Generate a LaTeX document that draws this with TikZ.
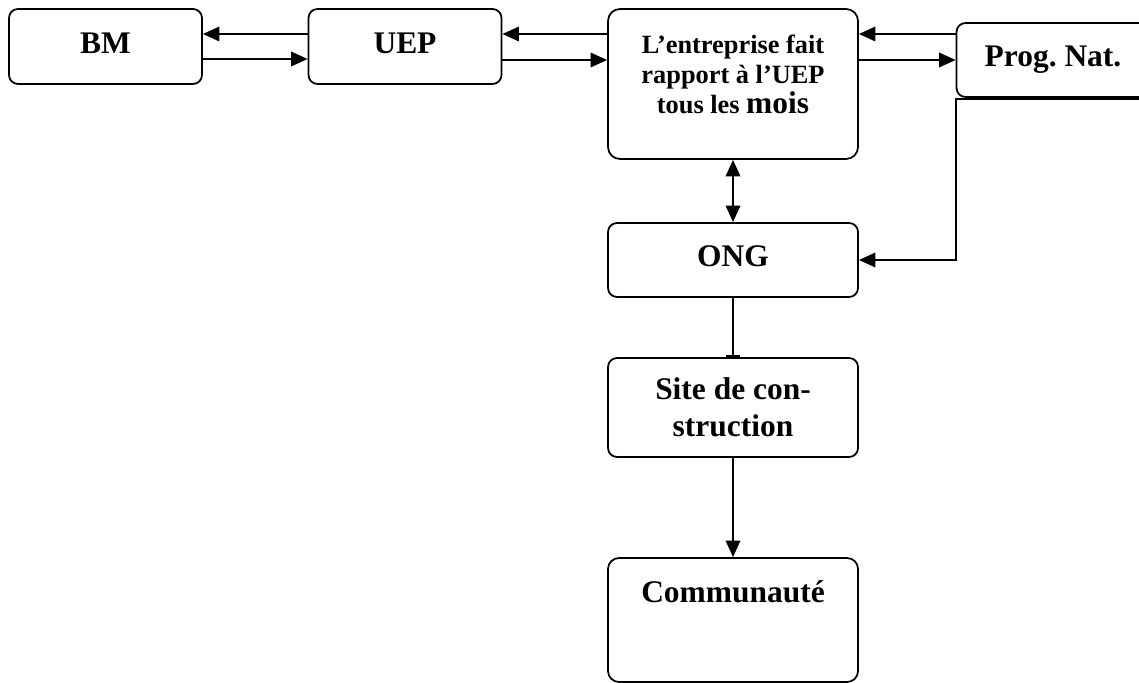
\documentclass[tikz,border=0pt]{standalone}
\usepackage{fontspec}
\setmainfont{Liberation Serif}
\usetikzlibrary{arrows.meta,positioning}
\frenchspacing

\tikzset{
  box/.style={draw, rounded corners=.18cm, line width=1pt, minimum width=3.86cm,
    minimum height=1.5cm, align=center, inner sep=2pt,
    font=\fontsize{17.9}{21}\selectfont\bfseries},
  wbox/.style={box, minimum width=5cm},
}

\begin{document}
\begin{tikzpicture}[->,>={Triangle[length=.33cm,width=.29cm]},line width=1pt,
                    node distance=6cm]
  \useasboundingbox (0,0) rectangle (22.78,-13.66);
  \clip (0,0) rectangle (22.78,-13.66);

  \node[box,text depth=.15cm] (bm) at (2.11,-.93) {BM};
  \node[box,text depth=.15cm] (uep) [node distance=5.99cm, right of=bm] {UEP};
  \node[wbox,minimum height=3cm,rounded corners=.24cm,
        font=\fontsize{15}{17}\selectfont\bfseries] (ent)
        [node distance=6.56cm, right of=uep, yshift=-.75cm]
        {L'entreprise fait\\rapport à l'UEP\\tous les {\fontsize{17.9}{17}\selectfont mois}\\[-5.6pt]\mbox{}};
  \node[box,text depth=.15cm,minimum height=1.48cm] (prog)
        [node distance=6.4cm, right of=ent, yshift=.48cm] {Prog. Nat.};
  \node[wbox,text depth=.15cm,minimum height=1.48cm] (ong)
        [node distance=3.52cm, below of=ent] {ONG};
  \node[wbox,minimum height=1.98cm] (site) [node distance=2.95cm, below of=ong]
        {Site de con-\\struction};
  \node[wbox,minimum height=2.48cm,rounded corners=.22cm] (comm)
        [node distance=4.25cm, below of=site] {Communauté\\[11pt]\mbox{}};

  \coordinate (pend) at ([yshift=-.02cm]prog.south east);

  \draw ([yshift=.25cm]uep.west) -- ([yshift=.25cm]bm.east);
  \draw ([yshift=-.25cm]bm.east) -- ([yshift=-.25cm]uep.west);
  \draw ([yshift=.52cm]prog.west -| ent.west) -- ([yshift=.52cm]prog.west -| uep.east);
  \draw (prog.west -| uep.east) -- (prog.west -| ent.west);
  \draw ([yshift=.52cm]prog.west) -- ([yshift=.52cm]prog.west -| ent.east);
  \draw (prog.west -| ent.east) -- (prog.west);
  \draw[<->] (ent) -- (ong);
  \draw (pend) -- (pend -| prog.west) |- (ong.east);
  \draw[-{Bar[width=.28cm]}] (ong) -- (site);
  \draw (site) -- (comm);
\end{tikzpicture}
\end{document}
